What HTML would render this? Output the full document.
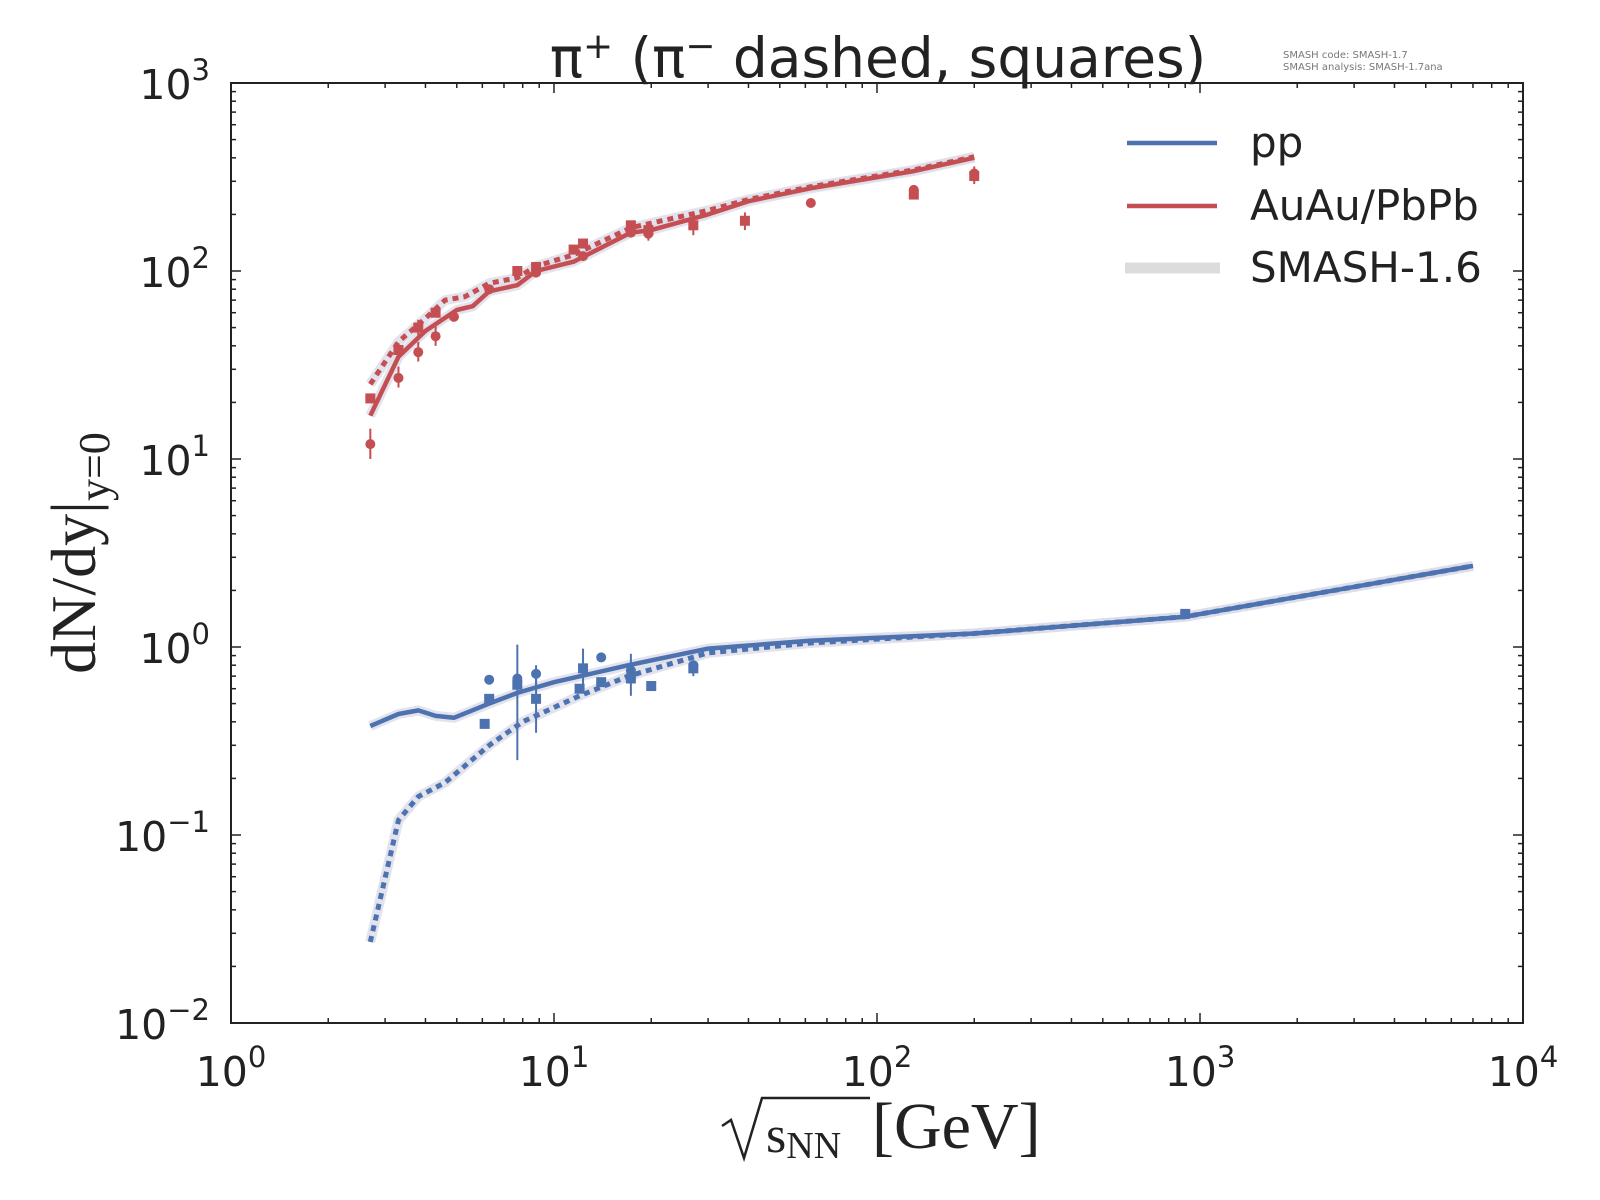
<!DOCTYPE html>
<html><head><meta charset="utf-8"><style>
html,body{margin:0;padding:0;background:#fff;}
svg{display:block;}
</style></head><body>
<svg id="s" width="1600" height="1200" xmlns="http://www.w3.org/2000/svg" font-family="DejaVu Sans, Liberation Sans, sans-serif"></svg>
<script>
const L=231,R=1523,T=83,B=1023;
const X=v=>L+323*Math.log10(v);
const Y=v=>T+188*(3-Math.log10(v));
let h='';
function path(pts,col,w,dash,op){
  let d=pts.map((p,i)=>(i?'L':'M')+X(p[0]).toFixed(1)+' '+Y(p[1]).toFixed(1)).join(' ');
  return `<path d="${d}" fill="none" stroke="${col}" stroke-width="${w}" ${dash?'stroke-dasharray="'+dash+'"':''} stroke-linejoin="round" opacity="${op||1}"/>`;
}
const RED='#c44e52',BLUE='#4c72b0';
const rs=[[2.7,17],[3.3,35],[4,48],[5,62],[5.6,65],[6.3,78],[7.7,84],[8.8,100],[11.5,112],[17.3,160],[20,165],[30,200],[40,235],[62,275],[130,340],[200,400]];
const rd=[[2.7,25],[3.3,42],[4,56],[4.6,70],[5.3,73],[6.3,86],[7.7,92],[8.8,106],[11.5,122],[17.3,170],[30,210],[40,240],[62,280],[130,345],[200,405]];
const bs=[[2.7,0.38],[3.3,0.44],[3.8,0.46],[4.3,0.43],[4.9,0.42],[6.3,0.5],[7.7,0.57],[10,0.65],[17,0.8],[30,0.98],[62,1.08],[200,1.18],[900,1.45],[7000,2.7]];
const bd=[[2.7,0.027],[3.3,0.12],[3.8,0.16],[4.6,0.19],[6.3,0.3],[8,0.4],[12,0.55],[17,0.7],[30,0.93],[62,1.05],[200,1.18],[900,1.45],[7000,2.7]];
[rs,rd,bs,bd].forEach(s=>h+=path(s,'#dcdce8',10,null,0.8));
h+=path(rs,RED,4.5);h+=path(rd,RED,5,'6 5');
h+=path(bs,BLUE,4.5);h+=path(bd,BLUE,5,'6 5');
function pt(x,y,col,sq,lo,hi){
  let cx=X(x),cy=Y(y);
  if(lo) h+=`<line x1="${cx}" x2="${cx}" y1="${Y(lo)}" y2="${Y(hi)}" stroke="${col}" stroke-width="2"/>`;
  if(sq) h+=`<rect x="${cx-5}" y="${cy-5}" width="10" height="10" fill="${col}"/>`;
  else h+=`<circle cx="${cx}" cy="${cy}" r="5" fill="${col}"/>`;
}
[[2.7,12,10,14.5],[3.3,27,24,31],[3.8,37,33,42],[4.3,45,40,52],[4.9,57],[6.3,80],[8.8,98],[12.3,120],[17.3,160],[19.6,158,145,175],[62.4,230],[130,270],[200,330,300,360]].forEach(p=>pt(p[0],p[1],RED,false,p[2],p[3]));
[[2.7,21],[3.3,38],[3.8,50,45,55],[4.3,60],[7.7,100],[8.8,105],[11.5,130],[12.3,140],[17.3,175],[19.6,165],[27,175,155,195],[39,185,165,205],[130,255],[200,320,290,350]].forEach(p=>pt(p[0],p[1],RED,true,p[2],p[3]));
[[6.3,0.67],[7.7,0.68,0.25,1.03],[8.8,0.72,0.6,0.8],[14,0.88],[17.3,0.75,0.55,0.92],[27,0.8]].forEach(p=>pt(p[0],p[1],BLUE,false,p[2],p[3]));
[[6.1,0.39],[6.3,0.53],[7.7,0.63],[8.8,0.53,0.35,0.7],[12,0.6],[12.3,0.77,0.6,0.98],[14,0.65],[17.3,0.68],[20,0.62],[27,0.77,0.7,0.85],[900,1.5]].forEach(p=>pt(p[0],p[1],BLUE,true,p[2],p[3]));
for(let e=0;e<4;e++)for(let m=1;m<10;m++){let x=X(Math.pow(10,e)*m),l=m==1?10:5;
 h+=`<line x1="${x}" x2="${x}" y1="${B}" y2="${B-l}" stroke="#222" stroke-width="1.5"/><line x1="${x}" x2="${x}" y1="${T}" y2="${T+l}" stroke="#222" stroke-width="1.5"/>`;}
for(let e=-2;e<3;e++)for(let m=1;m<10;m++){let y=Y(Math.pow(10,e)*m),l=m==1?10:5;
 h+=`<line x1="${L}" x2="${L+l}" y1="${y}" y2="${y}" stroke="#222" stroke-width="1.5"/><line x1="${R}" x2="${R-l}" y1="${y}" y2="${y}" stroke="#222" stroke-width="1.5"/>`;}
h+=`<rect x="${L}" y="${T}" width="${R-L}" height="${B-T}" fill="none" stroke="#222" stroke-width="2"/>`;
for(let e=0;e<=4;e++){h+=`<text x="${X(Math.pow(10,e))}" y="1086" font-size="41" text-anchor="middle" fill="#222">10<tspan font-size="29" dy="-19">${e}</tspan></text>`;}
for(let e=-2;e<=3;e++){let s=e<0?'\u2212'+(-e):''+e;h+=`<text x="210" y="${Y(Math.pow(10,e))+16}" font-size="41" text-anchor="end" fill="#222">10<tspan font-size="29" dy="-19">${s}</tspan></text>`;}
h+=`<text x="878" y="77" font-size="55" text-anchor="middle" fill="#222">π<tspan font-size="36" dy="-19">+</tspan><tspan dy="19"> (π</tspan><tspan font-size="36" dy="-19">−</tspan><tspan dy="19"> dashed, squares)</tspan></text>`;
h+=`<text x="1283" y="58" font-size="10" fill="#777">SMASH code:      SMASH-1.7</text><text x="1283" y="70" font-size="10" fill="#777">SMASH analysis: SMASH-1.7ana</text>`;
h+=`<line x1="1127" x2="1217" y1="143" y2="143" stroke="${BLUE}" stroke-width="4.5"/><line x1="1127" x2="1217" y1="206" y2="206" stroke="${RED}" stroke-width="4.5"/><line x1="1125" x2="1220" y1="268" y2="268" stroke="#dcdcdc" stroke-width="11"/>`;
h+=`<text x="1250" y="157" font-size="42" fill="#222">pp</text><text x="1250" y="220" font-size="42" fill="#222">AuAu/PbPb</text><text x="1250" y="282" font-size="42" fill="#222">SMASH-1.6</text>`;
h+=`<text transform="translate(95,553) rotate(-90)" font-family="Liberation Serif, serif" font-size="64" text-anchor="middle" fill="#222">dN/dy|<tspan font-size="44" dy="14">y=0</tspan></text>`;
h+=`<path d="M722 1126 L731 1120 L744 1158 L762 1098 L870 1098" fill="none" stroke="#222" stroke-width="2.5"/>`;
h+=`<text x="766" y="1152" font-family="Liberation Serif, serif" font-size="52" fill="#222">s<tspan font-size="38" dy="6">NN</tspan></text><text x="872" y="1148" font-family="Liberation Serif, serif" font-size="66" fill="#222">[GeV]</text>`;
document.getElementById('s').innerHTML=h;
</script>
</body></html>
